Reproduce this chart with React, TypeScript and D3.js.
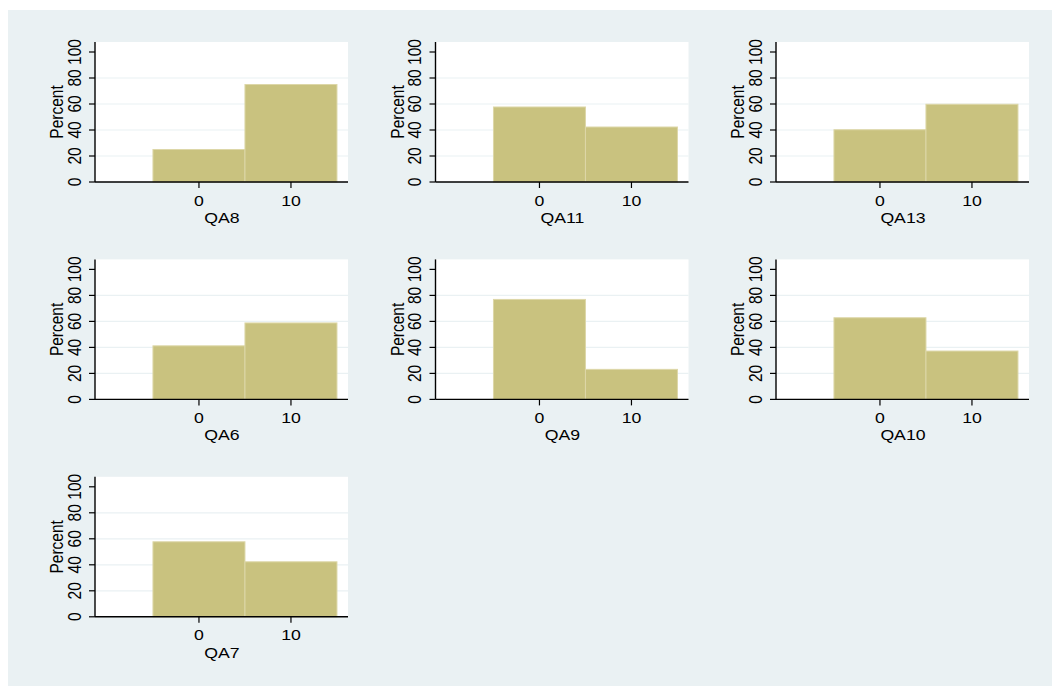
import React from "react";
import * as d3 from "d3";

const panelNames = ["QA8", "QA11", "QA13", "QA6", "QA9", "QA10", "QA7"];
const binStarts = [-5, 5];
const binWidth = 10;
const percentLow = [25, 57.7, 40.2, 41.2, 76.9, 62.8, 57.7];
const percentHigh = [75, 42.3, 59.8, 58.8, 23.1, 37.2, 42.3];
const yTicks = [0, 20, 40, 60, 80, 100];
const yGrid = [20, 40, 60, 80];
const xTicks = [0, 10];
const xDomain: [number, number] = [-11.3, 16.2];
const yDomain: [number, number] = [0, 100];

const W = 1052;
const H = 686;
const FONT = "'Liberation Sans', Arial, sans-serif";
const FS = 15.5;
const SX = 1.14;
const BAR = "#c9c27f";
const BAR_EDGE = "#ddd7a8";
const BG = "#eaf1f3";

function Panel({ idx }: { idx: number }) {
  const col = idx % 3;
  const row = Math.floor(idx / 3);
  const ox = col * 340.5;
  const oy = row * 217.4;
  const left = 95, right = 348, top = 42, bottom = 182;
  const x = d3.scaleLinear().domain(xDomain).range([left, right]);
  const y = d3.scaleLinear().domain(yDomain).range([bottom, 52]);
  const vals = [percentLow[idx], percentHigh[idx]];
  return (
    <g transform={`translate(${ox},${oy})`}>
      <rect x={left} y={top} width={right - left} height={bottom - top} fill="#ffffff" />
      {yGrid.map((t) => (
        <line key={t} x1={left} x2={right} y1={y(t)} y2={y(t)} stroke={BG} strokeWidth={1.2} />
      ))}
      {binStarts.map((b, i) => (
        <rect
          key={b}
          x={x(b)}
          y={y(vals[i])}
          width={x(b + binWidth) - x(b)}
          height={y(0) - y(vals[i])}
          fill={BAR}
          stroke={BAR_EDGE}
          strokeWidth={1}
        />
      ))}
      <line x1={left} x2={left} y1={top} y2={bottom} stroke="#000" strokeWidth={1.4} />
      <line x1={left} x2={right} y1={bottom} y2={bottom} stroke="#000" strokeWidth={1.4} />
      {yTicks.map((t) => (
        <g key={t}>
          <line x1={left - 6} x2={left} y1={y(t)} y2={y(t)} stroke="#000" strokeWidth={1.2} />
          <text
            transform={`translate(${80.5},${y(t)}) scale(${SX},1) rotate(-90)`}
            textAnchor="middle"
            fontFamily={FONT}
            fontSize={FS}
            fill="#000"
          >
            {t}
          </text>
        </g>
      ))}
      {xTicks.map((t) => (
        <g key={t}>
          <line x1={x(t)} x2={x(t)} y1={bottom} y2={bottom + 6} stroke="#000" strokeWidth={1.2} />
          <text
            transform={`translate(${x(t)},${205.5}) scale(${SX},1)`}
            textAnchor="middle"
            fontFamily={FONT}
            fontSize={FS}
            fill="#000"
          >
            {t}
          </text>
        </g>
      ))}
      <text
        transform={`translate(${63},${(top + bottom) / 2}) scale(${SX},1) rotate(-90)`}
        textAnchor="middle"
        fontFamily={FONT}
        fontSize={FS}
        fill="#000"
      >
        Percent
      </text>
      <text
        transform={`translate(${(x(0) + x(10)) / 2 - 23},${222.8}) scale(${SX},1)`}
        textAnchor="middle"
        fontFamily={FONT}
        fontSize={FS}
        fill="#000"
      >
        {panelNames[idx]}
      </text>
    </g>
  );
}

export default function App() {
  return (
    <svg
      width={W}
      height={H}
      style={{ position: "absolute", left: 0, top: 0, display: "block" }}
    >
      <rect x={0} y={0} width={W} height={H} fill="#ffffff" />
      <rect x={8} y={10} width={W - 8} height={H - 10} fill={BG} />
      {panelNames.map((_, i) => (
        <Panel key={i} idx={i} />
      ))}
    </svg>
  );
}
